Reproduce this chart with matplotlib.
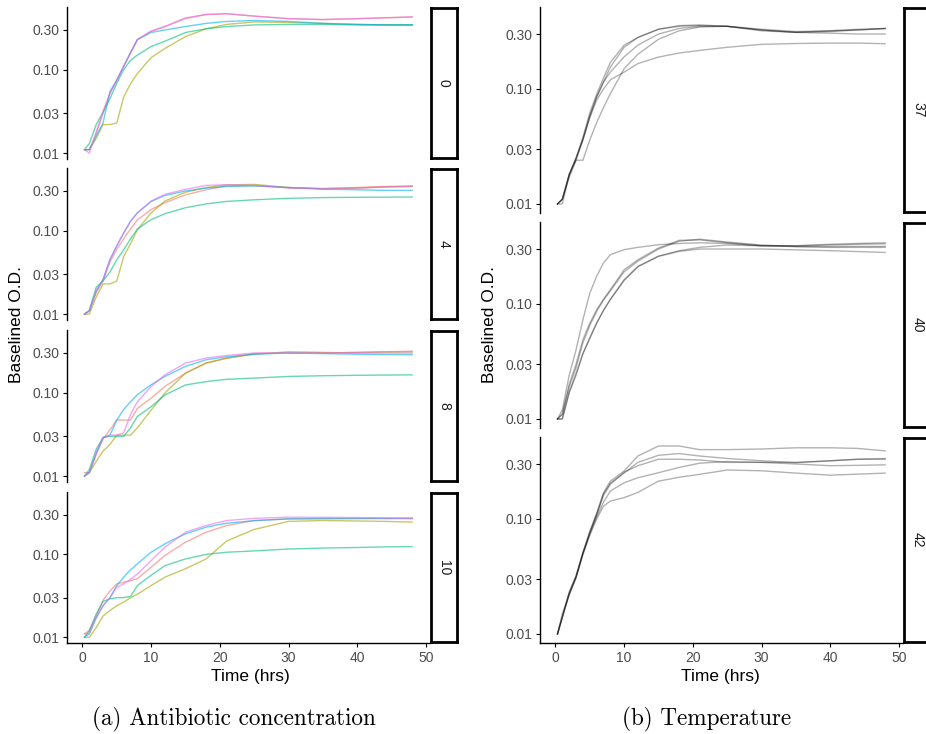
"""
Кривые роста: фасеты по концентрации антибиотика (a) и по температуре (b)
"""

import matplotlib
matplotlib.use('Agg')
import matplotlib.pyplot as plt
import numpy as np

# общая сетка времени (часы)
t = [0.3, 1, 2, 3, 4, 5, 6, 7, 8, 10, 12, 15, 18, 21, 25, 30, 35, 40, 44, 48]

# (a) концентрация антибиотика: по 5 кривых, порядок цветов как в colours
conc_labels = ['0', '4', '8', '10']
colours = ['#F8766D', '#A3A500', '#00BF7D', '#00B0F6', '#E76BF3']

conc_0 = [
    [0.011, 0.011, 0.017, 0.030, 0.052, 0.075, 0.11, 0.16, 0.23, 0.29, 0.33, 0.41, 0.46, 0.47, 0.44, 0.41, 0.40, 0.41, 0.42, 0.43],
    [0.011, 0.011, 0.015, 0.022, 0.022, 0.023, 0.047, 0.068, 0.09, 0.14, 0.18, 0.25, 0.31, 0.35, 0.375, 0.37, 0.36, 0.35, 0.345, 0.345],
    [0.011, 0.013, 0.022, 0.031, 0.045, 0.069, 0.10, 0.13, 0.15, 0.19, 0.22, 0.28, 0.31, 0.33, 0.345, 0.35, 0.35, 0.345, 0.345, 0.345],
    [0.011, 0.011, 0.016, 0.023, 0.055, 0.075, 0.11, 0.16, 0.23, 0.28, 0.30, 0.33, 0.36, 0.38, 0.39, 0.38, 0.36, 0.35, 0.345, 0.345],
    [0.011, 0.010, 0.018, 0.032, 0.052, 0.075, 0.11, 0.16, 0.23, 0.29, 0.33, 0.42, 0.46, 0.47, 0.44, 0.41, 0.40, 0.41, 0.42, 0.43],
]
conc_4 = [
    [0.010, 0.011, 0.018, 0.025, 0.042, 0.06, 0.08, 0.105, 0.135, 0.18, 0.217, 0.27, 0.31, 0.345, 0.35, 0.33, 0.32, 0.33, 0.34, 0.345],
    [0.010, 0.010, 0.016, 0.023, 0.023, 0.025, 0.049, 0.07, 0.103, 0.164, 0.227, 0.29, 0.33, 0.355, 0.36, 0.33, 0.32, 0.325, 0.335, 0.34],
    [0.010, 0.011, 0.021, 0.025, 0.032, 0.045, 0.059, 0.08, 0.105, 0.136, 0.16, 0.189, 0.21, 0.225, 0.235, 0.245, 0.25, 0.252, 0.253, 0.254],
    [0.010, 0.011, 0.019, 0.026, 0.045, 0.066, 0.094, 0.13, 0.164, 0.225, 0.265, 0.30, 0.325, 0.34, 0.345, 0.33, 0.315, 0.31, 0.305, 0.305],
    [0.010, 0.011, 0.019, 0.026, 0.045, 0.066, 0.094, 0.13, 0.164, 0.227, 0.273, 0.314, 0.35, 0.357, 0.35, 0.325, 0.32, 0.325, 0.335, 0.34],
]
conc_8 = [
    [0.011, 0.011, 0.018, 0.028, 0.036, 0.047, 0.047, 0.047, 0.065, 0.086, 0.119, 0.172, 0.227, 0.26, 0.295, 0.30, 0.30, 0.305, 0.31, 0.315],
    [0.010, 0.011, 0.015, 0.020, 0.024, 0.031, 0.031, 0.031, 0.038, 0.062, 0.099, 0.172, 0.227, 0.26, 0.29, 0.31, 0.305, 0.30, 0.30, 0.30],
    [0.010, 0.012, 0.021, 0.029, 0.030, 0.030, 0.030, 0.038, 0.052, 0.068, 0.094, 0.124, 0.136, 0.145, 0.15, 0.157, 0.16, 0.162, 0.163, 0.164],
    [0.010, 0.011, 0.019, 0.029, 0.031, 0.047, 0.063, 0.078, 0.095, 0.125, 0.157, 0.207, 0.249, 0.27, 0.29, 0.30, 0.295, 0.29, 0.287, 0.286],
    [0.010, 0.011, 0.019, 0.029, 0.031, 0.031, 0.033, 0.055, 0.078, 0.119, 0.164, 0.227, 0.261, 0.28, 0.30, 0.30, 0.30, 0.305, 0.31, 0.31],
]
conc_10 = [
    [0.011, 0.012, 0.018, 0.028, 0.036, 0.044, 0.046, 0.048, 0.051, 0.07, 0.097, 0.14, 0.185, 0.223, 0.256, 0.268, 0.27, 0.272, 0.274, 0.275],
    [0.010, 0.010, 0.013, 0.018, 0.021, 0.024, 0.0265, 0.030, 0.033, 0.042, 0.053, 0.067, 0.088, 0.145, 0.2, 0.25, 0.256, 0.253, 0.25, 0.245],
    [0.010, 0.012, 0.019, 0.027, 0.029, 0.030, 0.030, 0.031, 0.042, 0.056, 0.073, 0.088, 0.10, 0.106, 0.11, 0.116, 0.119, 0.121, 0.123, 0.124],
    [0.010, 0.011, 0.017, 0.024, 0.030, 0.042, 0.053, 0.065, 0.077, 0.106, 0.134, 0.177, 0.213, 0.238, 0.255, 0.268, 0.27, 0.27, 0.27, 0.27],
    [0.011, 0.011, 0.0174, 0.024, 0.030, 0.040, 0.044, 0.05, 0.058, 0.084, 0.122, 0.185, 0.223, 0.256, 0.272, 0.281, 0.28, 0.278, 0.275, 0.272],
]

# (b) температура: по 5 серых кривых
temp_labels = ['37', '40', '42']

temp_37 = [
    [0.010, 0.011, 0.017, 0.024, 0.036, 0.058, 0.085, 0.115, 0.155, 0.23, 0.28, 0.33, 0.35, 0.355, 0.35, 0.32, 0.31, 0.315, 0.325, 0.335],
    [0.010, 0.011, 0.018, 0.025, 0.038, 0.062, 0.09, 0.125, 0.17, 0.24, 0.28, 0.33, 0.355, 0.36, 0.35, 0.325, 0.31, 0.305, 0.30, 0.30],
    [0.010, 0.010, 0.018, 0.024, 0.024, 0.036, 0.051, 0.069, 0.091, 0.15, 0.20, 0.27, 0.32, 0.345, 0.35, 0.33, 0.315, 0.32, 0.33, 0.335],
    [0.010, 0.011, 0.018, 0.025, 0.036, 0.056, 0.08, 0.10, 0.12, 0.14, 0.166, 0.189, 0.205, 0.216, 0.23, 0.244, 0.248, 0.25, 0.25, 0.247],
    [0.010, 0.011, 0.018, 0.025, 0.037, 0.058, 0.085, 0.115, 0.14, 0.19, 0.24, 0.30, 0.335, 0.35, 0.35, 0.325, 0.31, 0.32, 0.325, 0.335],
]
temp_40 = [
    [0.010, 0.012, 0.024, 0.040, 0.073, 0.124, 0.174, 0.227, 0.268, 0.296, 0.31, 0.327, 0.335, 0.34, 0.335, 0.32, 0.32, 0.325, 0.33, 0.333],
    [0.010, 0.011, 0.020, 0.030, 0.049, 0.068, 0.089, 0.11, 0.133, 0.198, 0.242, 0.306, 0.357, 0.36, 0.34, 0.32, 0.315, 0.315, 0.316, 0.316],
    [0.010, 0.011, 0.019, 0.028, 0.046, 0.065, 0.086, 0.108, 0.13, 0.19, 0.235, 0.30, 0.35, 0.365, 0.345, 0.325, 0.315, 0.31, 0.31, 0.31],
    [0.010, 0.010, 0.017, 0.024, 0.037, 0.05, 0.068, 0.088, 0.109, 0.162, 0.212, 0.259, 0.286, 0.30, 0.30, 0.30, 0.295, 0.29, 0.285, 0.28],
    [0.010, 0.010, 0.017, 0.025, 0.037, 0.051, 0.068, 0.088, 0.11, 0.16, 0.21, 0.26, 0.29, 0.31, 0.325, 0.32, 0.32, 0.33, 0.335, 0.34],
]
temp_42 = [
    [0.010, 0.014, 0.023, 0.032, 0.051, 0.078, 0.112, 0.169, 0.213, 0.261, 0.352, 0.43, 0.43, 0.40, 0.40, 0.405, 0.415, 0.415, 0.41, 0.39],
    [0.010, 0.015, 0.022, 0.031, 0.050, 0.076, 0.11, 0.165, 0.205, 0.25, 0.31, 0.357, 0.37, 0.352, 0.335, 0.32, 0.308, 0.32, 0.33, 0.33],
    [0.010, 0.014, 0.023, 0.032, 0.051, 0.076, 0.108, 0.16, 0.20, 0.255, 0.29, 0.33, 0.33, 0.325, 0.31, 0.31, 0.31, 0.32, 0.33, 0.335],
    [0.010, 0.014, 0.022, 0.031, 0.050, 0.074, 0.104, 0.14, 0.175, 0.206, 0.228, 0.252, 0.28, 0.305, 0.315, 0.31, 0.30, 0.29, 0.292, 0.295],
    [0.010, 0.014, 0.022, 0.031, 0.049, 0.072, 0.10, 0.129, 0.143, 0.153, 0.17, 0.213, 0.23, 0.244, 0.266, 0.262, 0.25, 0.24, 0.245, 0.25],
]

y_ticks = [0.01, 0.03, 0.10, 0.30]
y_tick_labels = ['0.01', '0.03', '0.10', '0.30']
x_ticks = [0, 10, 20, 30, 40, 50]

plt.rcParams['font.family'] = ['Liberation Sans', 'DejaVu Sans']

W, H = 926, 734
fig = plt.figure(figsize=(W / 100, H / 100), dpi=100)


def px_axes(x0, y0, x1, y1):
    # оси по пиксельным координатам (сверху вниз)
    return fig.add_axes([x0 / W, 1 - y1 / H, (x1 - x0) / W, (y1 - y0) / H])


def facet(box, strip_box, curves, line_colours, alpha, label, ylim, bottom):
    ax = px_axes(*box)
    for y, c in zip(curves, line_colours):
        ax.plot(t, y, color=c, lw=1.0, alpha=alpha)
    ax.set_yscale('log')
    ax.set_ylim(*ylim)
    ax.set_xlim(-2.25, 50.6)
    ax.set_yticks(y_ticks)
    ax.set_yticklabels(y_tick_labels)
    ax.minorticks_off()
    ax.tick_params(axis='both', length=3, width=0.8, color='black',
                   labelsize=10, labelcolor='#4D4D4D', pad=2.5)
    for s in ['top', 'right']:
        ax.spines[s].set_visible(False)
    ax.spines['left'].set_linewidth(1.0)
    if bottom:
        ax.spines['bottom'].set_linewidth(1.0)
        ax.set_xticks(x_ticks)
    else:
        ax.spines['bottom'].set_visible(False)
        ax.set_xticks([])
    # полоска с подписью фасета
    st = px_axes(*strip_box)
    st.set_xticks([])
    st.set_yticks([])
    st.set_facecolor('white')
    for s in st.spines.values():
        s.set_linewidth(2.0)
    st.text(0.5, 0.5, label, rotation=270, ha='center', va='center',
            fontsize=10, color='#1A1A1A', transform=st.transAxes)
    return ax


# (a) левая панель
left_rows = [(7, 159), (168, 320), (330, 482), (492, 643)]
left_data = [conc_0, conc_4, conc_8, conc_10]
for i, ((y0, y1), curves, lab) in enumerate(zip(left_rows, left_data, conc_labels)):
    facet((67, y0, 430, y1), (431, y0 + 1, 457, y1 - 1), curves, colours, 0.6,
          lab, (0.0085, 0.566), i == len(left_rows) - 1)

# (b) правая панель
right_rows = [(7, 213), (222, 428), (437, 643)]
right_data = [temp_37, temp_40, temp_42]
for i, ((y0, y1), curves, lab) in enumerate(zip(right_rows, right_data, temp_labels)):
    facet((540, y0, 903, y1), (904, y0 + 1, 932, y1 - 1), curves, ['black'] * 5, 0.3,
          lab, (0.00835, 0.515), i == len(right_rows) - 1)

# подписи осей
fig.text(17 / W, 1 - 325 / H, 'Baselined O.D.', rotation=90, ha='center', va='center', fontsize=12.5)
fig.text(490 / W, 1 - 325 / H, 'Baselined O.D.', rotation=90, ha='center', va='center', fontsize=12.5)
fig.text(250 / W, 1 - 676 / H, 'Time (hrs)', ha='center', va='center', fontsize=12.5)
fig.text(720 / W, 1 - 676 / H, 'Time (hrs)', ha='center', va='center', fontsize=12.5)

# подписи подрисунков
fig.text(234 / W, 1 - 719 / H, '(a) Antibiotic concentration', ha='center', va='center',
         fontsize=16.7, family='cmr10')
fig.text(707 / W, 1 - 719 / H, '(b) Temperature', ha='center', va='center',
         fontsize=16.7, family='cmr10')

plt.savefig('out.png', dpi=100)
